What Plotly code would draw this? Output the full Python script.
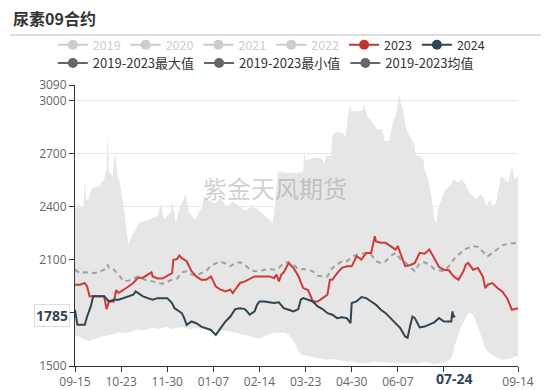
import pandas as pd
import plotly.graph_objects as go

START = pd.Timestamp("2023-09-15")

# ---- data (day offset from 2023-09-15, value) ----
red_days = [0,4,8,10,12,16,20,24,26,28,32,34,36,40,44,48,52,56,60,63,64,68,72,76,80,81,84,86,88,92,96,100,104,108,112,116,120,124,128,130,132,136,140,144,148,152,156,160,164,166,168,170,172,176,180,184,188,192,196,200,204,208,210,212,216,220,224,228,232,236,240,244,247,248,252,256,260,264,266,268,272,276,280,284,288,292,296,300,304,308,312,316,320,322,324,328,332,336,338,340,344,348,352,356,360,364,365]
red_vals = [1960,1960,1970,1950,1895,1895,1895,1895,1822,1865,1865,1930,1913,1930,1950,1970,2000,2000,2017,2030,2007,1995,1995,2011,2026,2100,2105,2125,2110,2093,2036,2007,1988,1988,2007,1950,1932,1922,1932,1913,1932,1970,1979,1995,2007,2007,2007,2007,1998,2017,1979,2017,2030,2083,2055,2010,1941,1930,1865,1865,1884,1903,1988,1988,2026,2055,2064,2064,2121,2102,2140,2140,2234,2205,2197,2197,2178,2159,2178,2140,2065,2070,2083,2140,2135,2159,2111,2060,2045,2042,2007,1988,2036,2074,2083,2045,2055,2007,1941,1960,1969,1941,1922,1884,1818,1822,1827]

dark_days = [0,2,4,8,10,12,13,15,20,24,28,32,36,40,44,48,50,52,56,60,64,68,72,76,80,82,84,88,90,92,96,100,104,108,112,116,120,124,128,132,136,140,144,148,150,152,156,160,164,168,172,176,180,184,186,188,192,196,200,204,208,212,216,220,224,227,228,232,236,240,244,248,252,256,260,264,268,272,274,276,278,280,284,288,292,296,300,304,308,310,311,312,313]
dark_vals = [1818,1733,1733,1733,1780,1818,1837,1894,1894,1894,1865,1875,1875,1884,1894,1903,1922,1913,1894,1884,1875,1884,1884,1884,1856,1827,1818,1799,1771,1733,1752,1742,1723,1714,1704,1676,1714,1752,1780,1822,1827,1822,1790,1809,1846,1865,1865,1860,1856,1860,1827,1818,1809,1822,1875,1884,1875,1865,1837,1822,1799,1790,1771,1776,1771,1742,1856,1865,1890,1884,1865,1846,1818,1799,1771,1742,1714,1667,1660,1723,1780,1771,1718,1723,1733,1747,1771,1752,1752,1752,1809,1776,1785]

mean_days = [0,4,8,12,16,20,24,27,28,32,36,40,44,48,52,56,60,64,68,72,76,80,84,88,92,96,100,104,108,112,116,120,124,128,132,136,140,144,148,152,156,160,164,168,172,176,180,184,188,192,196,200,204,208,212,216,220,224,228,232,236,240,244,248,252,256,260,264,268,272,276,280,284,288,292,296,300,304,308,312,316,320,324,328,332,336,340,344,348,352,356,360,364,365]
mean_vals = [2045,2026,2030,2026,2026,2032,2045,2074,2055,2045,2017,1979,1983,1992,2007,1992,1983,1979,1969,1966,1979,1988,1994,2030,2036,2017,2011,2026,2036,2068,2080,2090,2080,2064,2083,2087,2074,2045,2036,2036,2045,2049,2045,2055,2083,2087,2074,2047,2049,2045,2036,2011,2007,2007,2055,2074,2093,2093,2117,2130,2136,2140,2130,2093,2083,2093,2121,2140,2106,2087,2060,2036,2083,2087,2074,2049,2042,2036,2064,2102,2130,2155,2168,2178,2174,2149,2121,2140,2159,2183,2191,2193,2197,2197]

max_days = [0,6,7,8,9,11,14,20,24,26,27,28,31,33,35,37,40,43,44,47,53,61,68,71,73,76,79,80,83,86,88,91,94,99,105,106,110,115,120,125,130,135,140,145,150,155,160,163,165,167,170,175,180,184,188,189,190,192,198,204,205,207,211,212,214,220,223,226,228,232,237,238,241,245,249,253,255,259,262,265,267,269,270,272,273,276,279,281,284,287,288,291,294,296,298,299,302,305,309,312,316,318,321,325,328,331,334,336,339,342,344,347,351,354,357,360,362,365]
max_vals = [2395,2400,2410,2556,2440,2443,2509,2518,2556,2613,2812,2600,2575,2717,2575,2537,2405,2250,2187,2234,2310,2329,2348,2424,2329,2348,2367,2435,2310,2386,2424,2471,2367,2329,2405,2462,2440,2420,2450,2400,2430,2410,2380,2400,2390,2360,2330,2310,2420,2594,2600,2590,2594,2594,2600,2717,2660,2670,2680,2670,2640,2689,2689,2793,2821,2821,2800,2973,2945,2940,2945,2982,2915,2878,2840,2840,2774,2774,2878,2935,3039,2973,2960,2878,2840,2800,2765,2689,2689,2670,2613,2556,2443,2329,2310,2386,2443,2500,2518,2556,2537,2556,2537,2481,2462,2443,2471,2462,2405,2443,2405,2424,2575,2556,2537,2632,2556,2575]

min_days = [0,4,8,12,16,20,24,28,32,36,40,44,48,52,56,60,64,68,72,76,80,84,88,92,96,100,104,108,112,116,120,124,128,132,136,140,144,148,152,156,160,164,168,172,176,178,180,183,186,192,196,200,204,208,212,216,220,224,228,232,236,240,244,248,252,256,260,264,268,272,276,280,284,288,292,296,300,304,308,311,313,316,318,320,322,324,326,328,330,332,334,336,338,340,344,348,352,356,360,364,365]
min_vals = [1670,1665,1650,1640,1655,1660,1670,1675,1680,1690,1685,1690,1700,1705,1700,1710,1715,1710,1715,1720,1710,1715,1720,1712,1710,1715,1712,1708,1705,1700,1698,1700,1695,1690,1680,1675,1670,1660,1655,1665,1680,1690,1685,1690,1680,1660,1640,1600,1565,1555,1550,1545,1540,1535,1540,1535,1530,1525,1525,1520,1515,1515,1520,1525,1520,1522,1518,1520,1515,1515,1515,1512,1515,1525,1515,1512,1515,1520,1530,1560,1620,1680,1720,1745,1775,1795,1800,1790,1760,1720,1680,1640,1600,1580,1560,1545,1535,1540,1545,1555,1560]

tick_dates = ["2023-09-15","2023-10-23","2023-11-30","2024-01-07","2024-02-14","2024-03-23","2024-04-30","2024-06-07","2024-07-15","2024-09-14"]
tick_text = ["09-15","10-23","11-30","01-07","02-14","03-23","04-30","06-07","","09-14"]
y_ticks = [1500,1800,2100,2400,2700,3000,3090]
y_text = ["1500","","2100","2400","2700","3000","3090"]
pointer_date = "2024-07-24"
pointer_value = 1785

def to_dates(days):
    return START + pd.to_timedelta(days, unit="D")

FONT = "Noto Sans CJK SC"
RED = "#c23531"
DARK = "#2f4554"

fig = go.Figure()

# band
fig.add_trace(go.Scatter(x=to_dates(max_days), y=max_vals, mode="lines",
                         line=dict(width=0, color="#e6e6e6"), showlegend=False, hoverinfo="skip"))
fig.add_trace(go.Scatter(x=to_dates(min_days), y=min_vals, mode="lines", fill="tonexty",
                         fillcolor="#e6e6e6", line=dict(width=0, color="#e6e6e6"),
                         showlegend=False, hoverinfo="skip"))
fig.add_trace(go.Scatter(x=to_dates(mean_days), y=mean_vals, mode="lines",
                         line=dict(color="#a0a0a0", width=2, dash="5px,4px"), showlegend=False))
fig.add_trace(go.Scatter(x=to_dates(red_days), y=red_vals, mode="lines",
                         line=dict(color="#d03a36", width=2), showlegend=False))
fig.add_trace(go.Scatter(x=to_dates(dark_days), y=dark_vals, mode="lines",
                         line=dict(color=DARK, width=2), showlegend=False))

# legend entries
row1 = [("2019", "#cccccc", True), ("2020", "#cccccc", True), ("2021", "#cccccc", True),
        ("2022", "#cccccc", True), ("2023", RED, False), ("2024", DARK, False)]
for name, col, off in row1:
    label = f'<span style="color:#cccccc">{name}</span>' if off else name
    fig.add_trace(go.Scatter(x=[None], y=[None], mode="lines+markers", name=label,
                             line=dict(color=col, width=2), marker=dict(color=col, size=10),
                             legend="legend"))
for name in ["2019-2023最大值", "2019-2023最小值", "2019-2023均值"]:
    fig.add_trace(go.Scatter(x=[None], y=[None], mode="lines+markers", name=name,
                             line=dict(color="#666666", width=2), marker=dict(color="#666666", size=10),
                             legend="legend2"))

fig.update_layout(
    width=550, height=390,
    margin=dict(l=75, r=32, t=85, b=24, autoexpand=False),
    plot_bgcolor="white", paper_bgcolor="white",
    font=dict(family=FONT, size=12, color="#333333"),
    legend=dict(orientation="h", x=-0.05, y=1.142, xanchor="left", yanchor="middle",
                traceorder="normal",
                font=dict(size=12.5, color="#333333"), itemwidth=30, bgcolor="rgba(0,0,0,0)"),
    legend2=dict(orientation="h", x=-0.05, y=1.078, xanchor="left", yanchor="middle",
                 traceorder="normal",
                 font=dict(size=13, color="#333333"), itemwidth=30, bgcolor="rgba(0,0,0,0)"),
    hovermode=False,
)
fig.update_xaxes(
    type="date", range=["2023-09-15", "2024-09-14"],
    tickvals=tick_dates, ticktext=tick_text, tickangle=0,
    showgrid=False, showline=True, linecolor="#333333", linewidth=1,
    ticks="outside", ticklen=5, tickcolor="#333333",
    tickfont=dict(size=12, color="#666666", family="Open Sans"),
)
fig.update_yaxes(
    range=[1500, 3090], tickvals=y_ticks, ticktext=y_text,
    showgrid=True, gridcolor="#e8e8e8", gridwidth=1, zeroline=False,
    showline=True, linecolor="#333333", linewidth=1,
    ticks="outside", ticklen=5, tickcolor="#333333",
    tickfont=dict(size=12, color="#666666", family="Open Sans"),
)

# title + separator
fig.add_annotation(text="<b>尿素09合约</b>", xref="paper", yref="paper",
                   x=(11 - 75) / 443, y=(366 - 18) / 281, xanchor="left", yanchor="middle",
                   showarrow=False, font=dict(size=16, color="#333333", family=FONT))
fig.add_shape(type="line", xref="paper", yref="paper",
              x0=(10 - 75) / 443, x1=(541 - 75) / 443, y0=(366 - 35) / 281, y1=(366 - 35) / 281,
              line=dict(color="#bbbbbb", width=1))
# watermark
fig.add_annotation(text="紫金天风期货", xref="paper", yref="paper",
                   x=(275 - 75) / 443, y=(366 - 187) / 281, showarrow=False,
                   font=dict(size=24, color="rgba(120,120,120,0.35)", family=FONT))
# axis pointer labels
fig.add_annotation(text=f"<b>{pointer_value}</b>", xref="paper", yref="y",
                   x=-0.012, y=pointer_value, xanchor="right", yanchor="middle", showarrow=False,
                   font=dict(size=14, color=DARK, family="Open Sans"),
                   bgcolor="white", bordercolor="#dddddd", borderwidth=1, borderpad=1)
fig.add_annotation(text="<b>07-24</b>", xref="x", yref="paper",
                   x=pointer_date, y=-0.043, xanchor="center", yanchor="middle", showarrow=False,
                   font=dict(size=14, color=DARK, family="Open Sans"))

fig.write_html("out.html", config={"displayModeBar": False},
               post_script="document.body.style.margin='0';")
